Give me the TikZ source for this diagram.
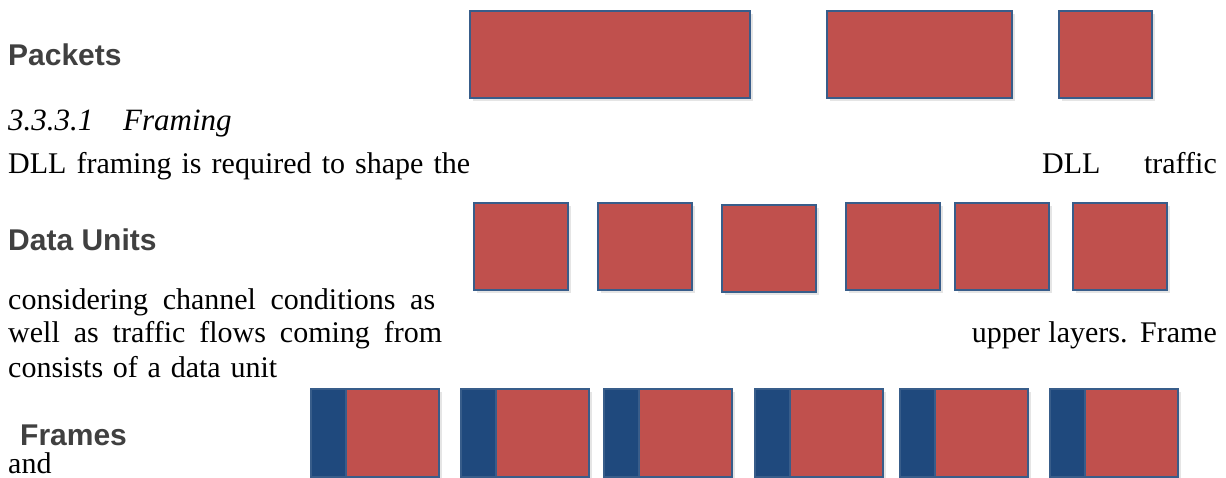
\documentclass[tikz,border=0pt]{standalone}
\usepackage{fontspec}
\setmainfont{Liberation Serif}
\setsansfont{Liberation Sans}
\usetikzlibrary{positioning,shadows}
\definecolor{pktred}{HTML}{C0504D}
\definecolor{hdrblue}{HTML}{1F497D}
\definecolor{edgeblue}{HTML}{385D8A}
\definecolor{headgray}{HTML}{404040}

\begin{document}
\begin{tikzpicture}[
  x=1pt, y=-1pt,
  node distance=0pt,
  box/.style={draw=edgeblue, line width=1.3pt, inner sep=0pt, outer sep=0pt,
    minimum height=87pt,
    drop shadow={shadow xshift=3pt, shadow yshift=-3pt, fill=black!10, opacity=1}},
  pkt/.style={box, fill=pktred, anchor=north west},
  hdr/.style={box, fill=hdrblue, minimum width=35pt, minimum height=88pt, anchor=north west},
  pay/.style={box, fill=pktred, minimum width=93pt, minimum height=88pt, right=of #1},
  heading/.style={anchor=base west, inner sep=0pt, text=headgray,
    font=\fontsize{30}{34}\selectfont\sffamily\bfseries},
  body/.style={anchor=base west, inner sep=0pt, font=\fontsize{30}{34}\selectfont}
  ]
  \useasboundingbox (0,0) rectangle (1226,478);

  % packets
  \node (pk1) [pkt, minimum width=280pt] at (470,11) {};
  \node (pk2) [pkt, minimum width=185pt] at (827,11) {};
  \node (pk3) [pkt, minimum width=93pt] at (1059,11) {};

  % data units
  \node (du1) [pkt, minimum width=94pt] at (474,203) {};
  \node (du2) [pkt, minimum width=94pt] at (598,203) {};
  \node (du3) [pkt, minimum width=94pt] at (722,205) {};
  \node (du4) [pkt, minimum width=94pt] at (846,203) {};
  \node (du5) [pkt, minimum width=94pt] at (955,203) {};
  \node (du6) [pkt, minimum width=94pt] at (1073,203) {};

  % frames: header + payload
  \node (hd1) [hdr] at (311,389) {};
  \node (pl1) [pay=hd1] {};
  \node (hd2) [hdr] at (461,389) {};
  \node (pl2) [pay=hd2] {};
  \node (hd3) [hdr] at (604,389) {};
  \node (pl3) [pay=hd3] {};
  \node (hd4) [hdr] at (755,389) {};
  \node (pl4) [pay=hd4] {};
  \node (hd5) [hdr] at (900,389) {};
  \node (pl5) [pay=hd5] {};
  \node (hd6) [hdr] at (1050,389) {};
  \node (pl6) [pay=hd6] {};

  % text
  \node (tpk) [heading] at (8,66) {Packets};
  \node (num) [body, font=\fontsize{31}{34}\selectfont\itshape] at (8,131) {3.3.3.1};
  \node (sec) [body, font=\fontsize{31}{34}\selectfont\itshape] at (123,131) {Framing};
  \node (ln1) [body] at (8,174) {\makebox[462pt][s]{DLL framing is required to shape the}};
  \node (dll) [body] at (1042,174) {DLL};
  \node (trf) [body, anchor=base east] at (1217,174) {traffic};
  \node (tdu) [heading] at (8,251) {Data Units};
  \node (ln2) [body] at (8,309) {\makebox[427pt][s]{considering channel conditions as}};
  \node (ln3) [body] at (8,342) {\makebox[434pt][s]{well as traffic flows coming from}};
  \node (upl) [body, anchor=base east] at (1217,342) {\makebox[245pt][s]{upper layers. Frame}};
  \node (ln4) [body] at (8,377) {\makebox[269pt][s]{consists of a data unit}};
  \node (tfr) [heading] at (20,445) {Frames};
  \node (and) [body] at (8,473) {and};

\end{tikzpicture}
\end{document}
